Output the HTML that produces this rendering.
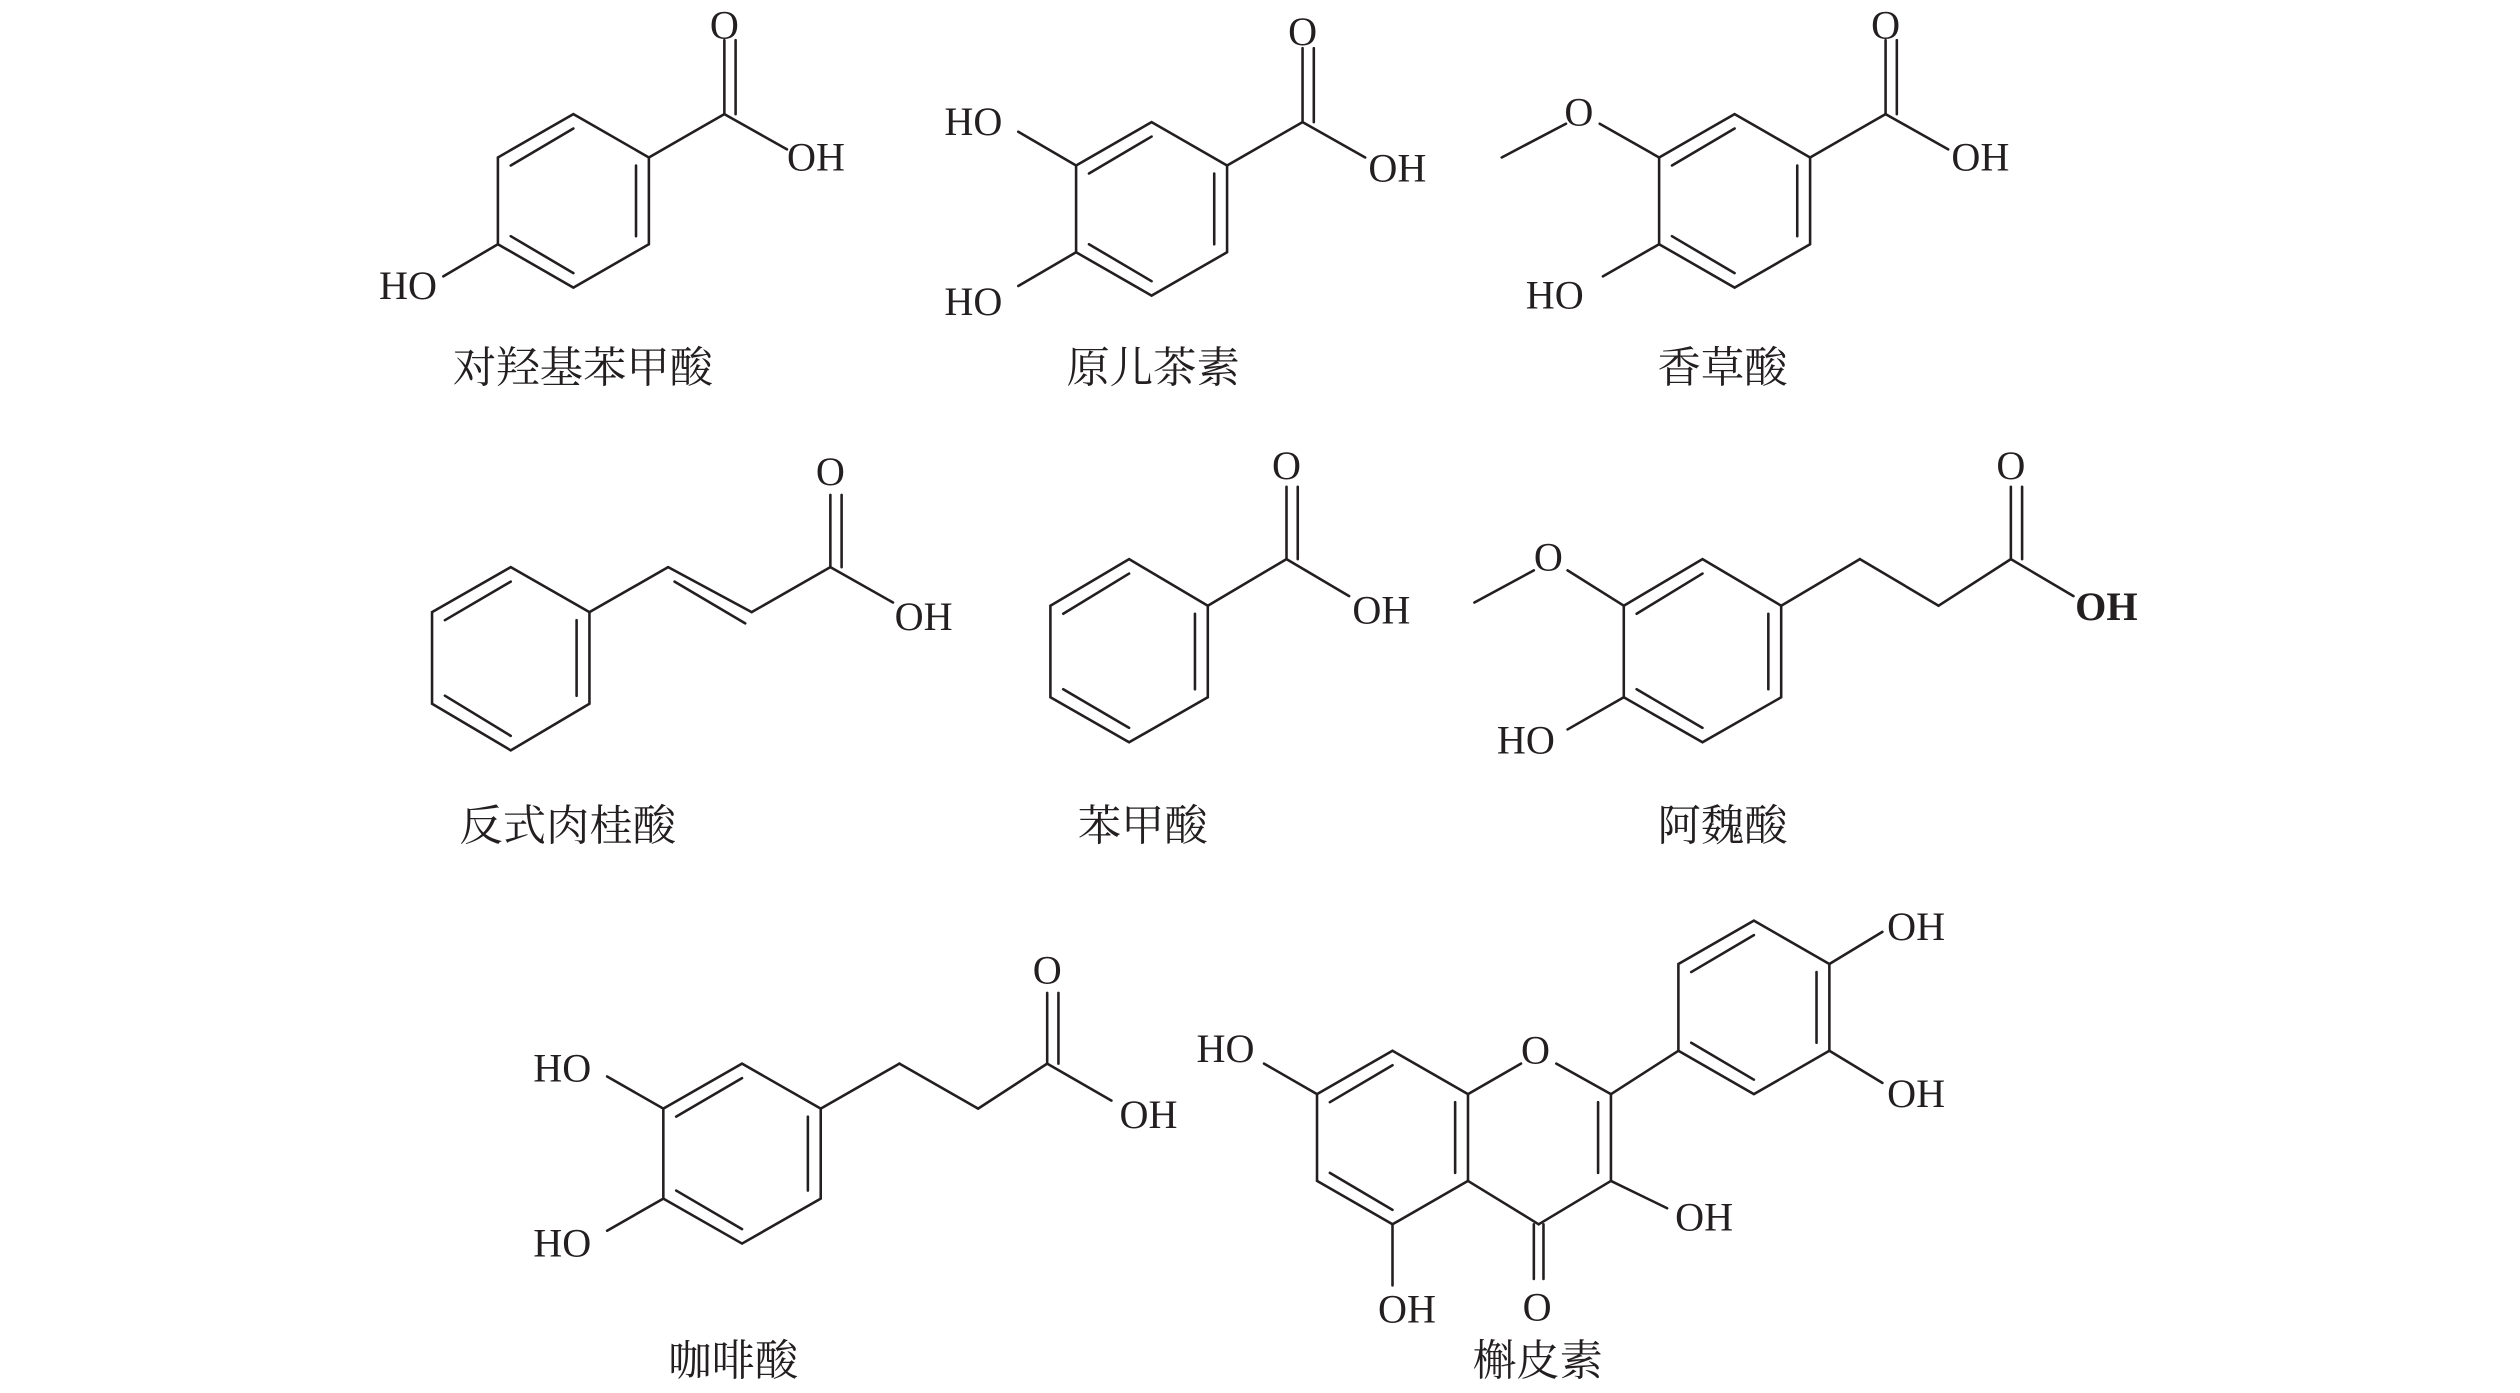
<!DOCTYPE html>
<html><head><meta charset="utf-8"><style>
html,body{margin:0;padding:0;background:#fff;}
svg{display:block}
text{font-family:"Liberation Serif","Noto Serif CJK SC",serif;fill:#231f20}
.cn{font-family:"Liberation Serif","Noto Serif CJK SC","Noto Sans CJK SC",serif;font-size:27px}
.a{font-size:25px}
</style></head><body>
<svg width="2520" height="1393" viewBox="0 0 1569 867" preserveAspectRatio="none" xmlns="http://www.w3.org/2000/svg">
<g stroke="#231f20" stroke-width="1.6" fill="none" stroke-linecap="round">
<polygon points="357,71 404,98 404,152 357,179 310,152 310,98"/>
<line x1="318" y1="103" x2="357" y2="80"/><line x1="396" y1="103" x2="396" y2="147"/><line x1="318" y1="147" x2="357" y2="170"/>
<line x1="404" y1="98" x2="451" y2="71"/><line x1="451" y1="71" x2="451" y2="25"/><line x1="458" y1="71" x2="458" y2="25"/>
<line x1="451" y1="71" x2="490" y2="93"/><line x1="310" y1="152" x2="276" y2="172"/>
<polygon points="717,76 764,103 764,157 717,184 670,157 670,103"/>
<line x1="678" y1="108" x2="717" y2="85"/><line x1="756" y1="108" x2="756" y2="152"/><line x1="678" y1="152" x2="717" y2="175"/>
<line x1="764" y1="103" x2="811" y2="76"/><line x1="811" y1="76" x2="811" y2="30"/><line x1="818" y1="76" x2="818" y2="30"/>
<line x1="811" y1="76" x2="850" y2="98"/><line x1="670" y1="103" x2="634" y2="82"/><line x1="670" y1="157" x2="634" y2="178"/>
<polygon points="1080,71 1127,98 1127,152 1080,179 1033,152 1033,98"/>
<line x1="1041" y1="103" x2="1080" y2="80"/><line x1="1119" y1="103" x2="1119" y2="147"/><line x1="1041" y1="147" x2="1080" y2="170"/>
<line x1="1127" y1="98" x2="1174" y2="71"/><line x1="1174" y1="71" x2="1174" y2="25"/><line x1="1181" y1="71" x2="1181" y2="25"/>
<line x1="1174" y1="71" x2="1213" y2="93"/><line x1="1033" y1="98" x2="996" y2="77"/><line x1="975" y1="77" x2="935" y2="98"/>
<line x1="1033" y1="152" x2="998" y2="172"/>
<polygon points="318,353 367,381 367,438 318,467 269,438 269,381"/>
<line x1="277" y1="386" x2="318" y2="362"/><line x1="359" y1="386" x2="359" y2="433"/><line x1="277" y1="433" x2="318" y2="458"/>
<line x1="367" y1="381" x2="416" y2="353"/><line x1="416" y1="353" x2="468" y2="381"/><line x1="420" y1="362" x2="464" y2="388"/>
<line x1="468" y1="381" x2="517" y2="353"/><line x1="517" y1="353" x2="517" y2="308"/><line x1="524" y1="353" x2="524" y2="308"/>
<line x1="517" y1="353" x2="556" y2="375"/>
<polygon points="703,348 752,377 752,434 703,462 654,434 654,377"/>
<line x1="662" y1="382" x2="703" y2="357"/><line x1="744" y1="382" x2="744" y2="429"/><line x1="662" y1="429" x2="703" y2="453"/>
<line x1="752" y1="377" x2="801" y2="348"/><line x1="801" y1="348" x2="801" y2="303"/><line x1="808" y1="348" x2="808" y2="303"/>
<line x1="801" y1="348" x2="840" y2="371"/>
<polygon points="1060,348 1109,377 1109,434 1060,462 1011,434 1011,377"/>
<line x1="1019" y1="382" x2="1060" y2="357"/><line x1="1101" y1="382" x2="1101" y2="429"/><line x1="1019" y1="429" x2="1060" y2="453"/>
<line x1="1109" y1="377" x2="1158" y2="348"/><line x1="1158" y1="348" x2="1207" y2="377"/><line x1="1207" y1="377" x2="1252" y2="348"/>
<line x1="1252" y1="348" x2="1252" y2="303"/><line x1="1259" y1="348" x2="1259" y2="303"/><line x1="1252" y1="348" x2="1291" y2="371"/>
<line x1="1011" y1="377" x2="976" y2="355"/><line x1="955" y1="355" x2="918" y2="375"/><line x1="1011" y1="434" x2="976" y2="454"/>
<polygon points="462,662 511,690 511,746 462,774 413,746 413,690"/>
<line x1="421" y1="695" x2="462" y2="671"/><line x1="503" y1="695" x2="503" y2="741"/><line x1="421" y1="741" x2="462" y2="765"/>
<line x1="511" y1="690" x2="560" y2="662"/><line x1="560" y1="662" x2="609" y2="690"/><line x1="609" y1="690" x2="652" y2="662"/>
<line x1="652" y1="662" x2="652" y2="618"/><line x1="659" y1="662" x2="659" y2="618"/><line x1="652" y1="662" x2="692" y2="685"/>
<line x1="413" y1="690" x2="378" y2="670"/><line x1="413" y1="746" x2="378" y2="766"/>
<polygon points="867,654 914,681 914,735 867,762 820,735 820,681"/>
<line x1="828" y1="686" x2="867" y2="663"/><line x1="906" y1="686" x2="906" y2="730"/><line x1="828" y1="730" x2="867" y2="753"/>
<line x1="914" y1="681" x2="947" y2="662"/><line x1="969" y1="662" x2="1003" y2="681"/><line x1="1003" y1="681" x2="1003" y2="735"/>
<line x1="995" y1="686" x2="995" y2="730"/><line x1="1003" y1="735" x2="958" y2="762"/><line x1="958" y1="762" x2="914" y2="735"/>
<line x1="955" y1="762" x2="955" y2="796"/><line x1="961" y1="762" x2="961" y2="796"/>
<line x1="1003" y1="735" x2="1038" y2="752"/><line x1="867" y1="762" x2="867" y2="800"/><line x1="820" y1="681" x2="787" y2="662"/>
<line x1="1003" y1="681" x2="1045" y2="654"/>
<polygon points="1092,573 1139,600 1139,654 1092,681 1045,654 1045,600"/>
<line x1="1053" y1="605" x2="1092" y2="582"/><line x1="1131" y1="605" x2="1131" y2="649"/><line x1="1053" y1="649" x2="1092" y2="672"/>
<line x1="1139" y1="600" x2="1172" y2="580"/><line x1="1139" y1="654" x2="1172" y2="674"/>
</g>
<g class="a">
<text x="442" y="24">O</text><text x="490" y="106">OH</text><text x="236" y="186">HO</text>
<text x="802" y="28">O</text><text x="852" y="113">OH</text><text x="588" y="84">HO</text><text x="588" y="196">HO</text>
<text x="1165" y="24">O</text><text x="1215" y="106">OH</text><text x="974" y="78">O</text><text x="950" y="192">HO</text>
<text x="508" y="302">O</text><text x="557" y="392">OH</text>
<text x="792" y="298">O</text><text x="842" y="388">OH</text>
<text x="1243" y="298">O</text><text x="1292" y="386" font-weight="bold">OH</text><text x="955" y="355">O</text><text x="932" y="469">HO</text>
<text x="643" y="612">O</text><text x="697" y="702">OH</text><text x="332" y="673">HO</text><text x="332" y="782">HO</text>
<text x="745" y="661">HO</text><text x="947" y="662">O</text><text x="948" y="822">O</text><text x="858" y="823">OH</text>
<text x="1043" y="766">OH</text><text x="1175" y="585">OH</text><text x="1175" y="689">OH</text>
</g>
<g class="cn">
<text x="282" y="238">对羟基苯甲酸</text><text x="664" y="238">原儿茶素</text><text x="1032" y="238">香草酸</text>
<text x="286" y="523">反式肉桂酸</text><text x="671" y="523">苯甲酸</text><text x="1032" y="523">阿魏酸</text>
<text x="416" y="856">咖啡酸</text><text x="917" y="856">槲皮素</text>
</g>
</svg>
</body></html>
